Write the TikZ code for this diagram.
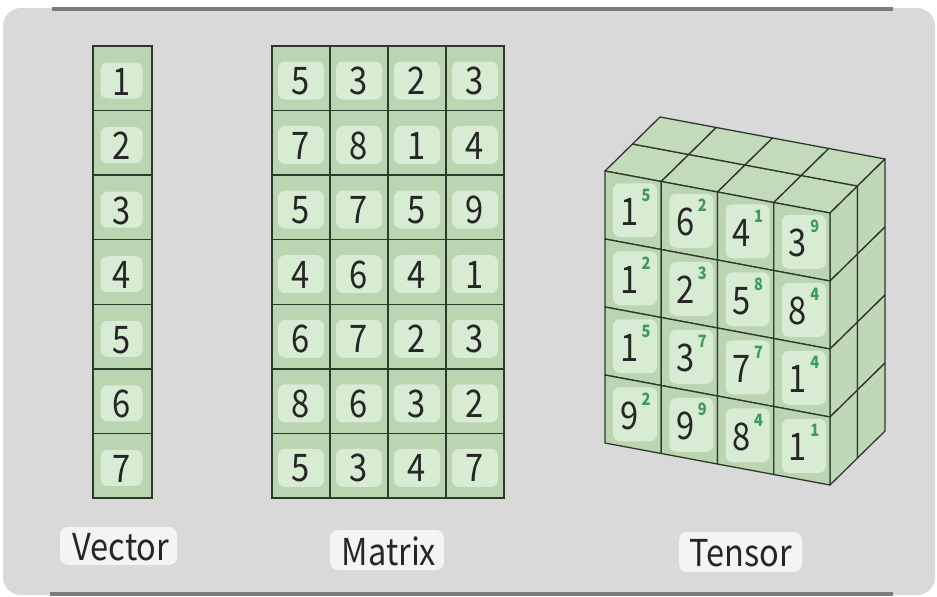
\documentclass[tikz,border=0pt]{standalone}
\usepackage{fontspec}
\usetikzlibrary{calc}
\newfontfamily\numf[FakeStretch=0.86]{Noto Sans CJK SC}
\newfontfamily\lblf[FakeStretch=0.88]{Noto Sans CJK SC}
\definecolor{cellg}{HTML}{BBD4B2}
\definecolor{lightg}{HTML}{D8EBD3}
\definecolor{edgec}{HTML}{2B3A2B}
\definecolor{topf}{HTML}{C3DBBA}
\definecolor{sidef}{HTML}{C0D7B8}
\definecolor{supg}{HTML}{3E9A5E}
\definecolor{panelc}{HTML}{D9D9D9}
\definecolor{barc}{HTML}{7B7B7B}
\definecolor{lblbg}{HTML}{F4F4F4}
\definecolor{txtc}{HTML}{262626}
\tikzset{
  cellbox/.style={draw=edgec, fill=cellg, line width=1.3pt, inner sep=0pt, outer sep=0pt},
  innerbox/.style={fill=lightg, rounded corners=7pt, inner sep=0pt, outer sep=0pt},
  dig/.style={text=txtc, font=\numf\fontsize{38}{38}\selectfont, inner sep=0pt, anchor=base},
  tdig/.style={text=txtc, font=\numf\fontsize{38}{38}\selectfont, inner sep=0pt, anchor=base},
  sdig/.style={text=supg, font=\numf\bfseries\fontsize{17}{17}\selectfont, inner sep=0pt, anchor=base west},
  face/.style={draw=edgec, line width=1.3pt, line join=round},
  lblbox/.style={fill=lblbg, rounded corners=8pt, inner sep=0pt},
  lbltext/.style={text=txtc, font=\lblf\fontsize{37}{37}\selectfont, inner sep=0pt}
}
\begin{document}
\begin{tikzpicture}[x=1pt,y=-1pt]
\useasboundingbox (0,0) rectangle (937,597);
\fill[white] (0,0) rectangle (937,597);
% panel
\fill[panelc, rounded corners=18pt] (3,8) rectangle (935,595);
\draw[barc, line width=4pt] (52,9) -- (893,9);
\draw[barc, line width=4pt] (50,594) -- (893,594);

% ---------- Vector ----------
\foreach \n [count=\j from 0] in {1,2,3,4,5,6,7}{
  \pgfmathsetmacro\cy{46+64.57*\j}
  \node[cellbox, minimum width=59pt, minimum height=64.57pt] (vc\j) at (122.5,\cy+32.29) {};
  \node[innerbox, minimum width=42pt, minimum height=36pt] (vi\j) at (121.5,\cy+34.5) {};
  \node[dig] (vd\j) at (121.5,\cy+49) {\n};
}

% ---------- Matrix ----------
\foreach \row [count=\j from 0] in {{5,3,2,3},{7,8,1,4},{5,7,5,9},{4,6,4,1},{6,7,2,3},{8,6,3,2},{5,3,4,7}}{
  \foreach \v [count=\i from 0] in \row {
    \pgfmathsetmacro\cx{272+58*\i+29}
    \pgfmathsetmacro\cy{46+64.57*\j}
    \node[cellbox, minimum width=58pt, minimum height=64.57pt] (mc\i\j) at (\cx,\cy+32.29) {};
    \node[innerbox, minimum width=46pt, minimum height=38pt] (mi\i\j) at (\cx,\cy+34.5) {};
    \node[dig] (md\i\j) at (\cx,\cy+48.5) {\v};
  }
}

% ---------- Tensor ----------
% top face
\foreach \i in {0,...,3}{
  \foreach \k in {0,1}{
    \pgfmathsetmacro\xa{605+56.25*\i+27.5*\k}
    \pgfmathsetmacro\ya{171+10.5*\i-27*\k}
    \filldraw[face, fill=topf] (\xa,\ya) -- (\xa+56.25,\ya+10.5) -- (\xa+56.25+27.5,\ya+10.5-27) -- (\xa+27.5,\ya-27) -- cycle;
  }
}
% right face
\foreach \k in {0,1}{
  \foreach \j in {0,...,3}{
    \pgfmathsetmacro\xa{830+27.5*\k}
    \pgfmathsetmacro\ya{213-27*\k+68*\j}
    \filldraw[face, fill=sidef] (\xa,\ya) -- (\xa+27.5,\ya-27) -- (\xa+27.5,\ya-27+68) -- (\xa,\ya+68) -- cycle;
  }
}
% front face
\foreach \i in {0,...,3}{
  \foreach \j in {0,...,3}{
    \pgfmathsetmacro\xa{605+56.25*\i}
    \pgfmathsetmacro\ya{171+10.5*\i+68*\j}
    \filldraw[face, fill=cellg] (\xa,\ya) -- (\xa+56.25,\ya+10.5) -- (\xa+56.25,\ya+78.5) -- (\xa,\ya+68) -- cycle;
  }
}
\foreach \row [count=\j from 0] in {{1/5,6/2,4/1,3/9},{1/2,2/3,5/8,8/4},{1/5,3/7,7/7,1/4},{9/2,9/9,8/4,1/1}}{
  \foreach \d/\s [count=\i from 0] in \row {
    \pgfmathsetmacro\cx{605+56.25*\i+28.1}
    \pgfmathsetmacro\ct{171+10.5*\i+5.25+68*\j}
    \node[innerbox, minimum width=44pt, minimum height=54pt] (ti\i\j) at (\cx+2,\ct+34) {};
    \node[tdig] (td\i\j) at (\cx-4,\ct+49) {\d};
    \node[sdig] (ts\i\j) at ($(td\i\j.base east)+(3,-24)$) {\s};
  }
}

% ---------- Labels ----------
\node[lblbox, minimum width=117pt, minimum height=38pt] (lv) at (118.5,546) {};
\node[lbltext] (tv) at (121,547) {Vector};
\node[lblbox, minimum width=114pt, minimum height=40pt] (lm) at (387,550) {};
\node[lbltext] (tm) at (389,551) {Matrix};
\node[lblbox, minimum width=123pt, minimum height=40pt] (lt) at (740.5,552) {};
\node[lbltext] (tt) at (741,553) {Tensor};
\end{tikzpicture}
\end{document}
